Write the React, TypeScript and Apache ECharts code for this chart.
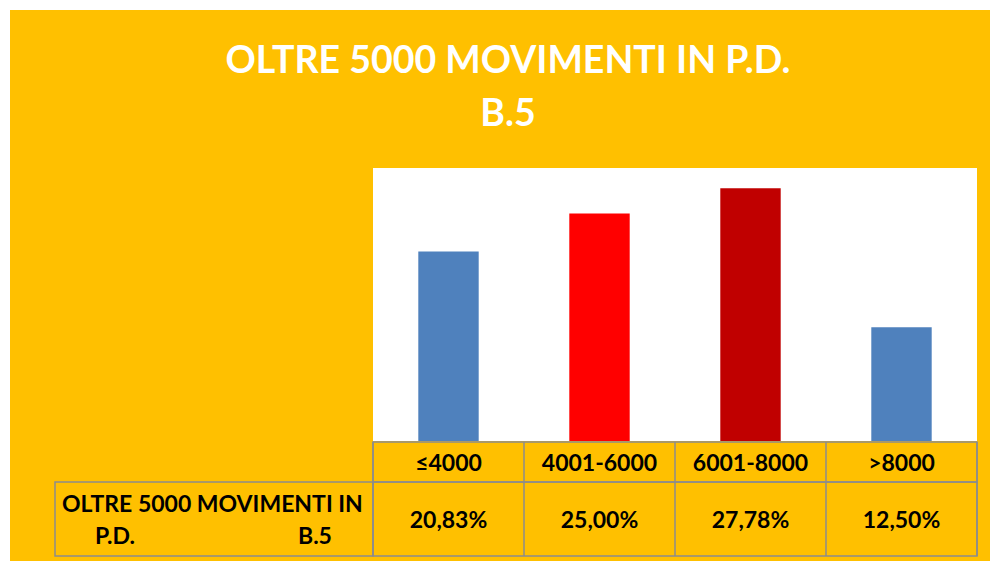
import React, { useEffect, useRef } from "react";
import * as echarts from "echarts";

const categories = ["≤4000", "4001-6000", "6001-8000", ">8000"];
const values = [20.83, 25.0, 27.78, 12.5];
const barColors = ["#4F81BD", "#FF0000", "#C00000", "#4F81BD"];
const titleLines = ["OLTRE 5000 MOVIMENTI IN P.D.", "B.5"];
const rowHeader = ["OLTRE 5000 MOVIMENTI IN", "P.D.", "B.5"];

const FONT = "Lato, 'Noto Sans', sans-serif";
const GRID_LINE = "#8C8C8C";

const fmt = (v: number) => v.toFixed(2).replace(".", ",") + "%";

export default function App() {
  const ref = useRef<HTMLDivElement>(null);
  useEffect(() => {
    if (!ref.current) return;
    const chart = echarts.init(ref.current, undefined, { renderer: "svg" });
    const cellText = (getText: (i: number) => string) => (params: any, api: any) => {
      const idx = api.value(0);
      const p = api.coord([idx, 0]);
      return {
        type: "text",
        x: p[0],
        y: p[1],
        style: {
          text: getText(idx),
          align: "center",
          verticalAlign: "middle",
          textAlign: "center",
          textVerticalAlign: "middle",
          fill: "#000",
          fontFamily: FONT,
          fontWeight: "bold",
          fontSize: 23,
        },
      };
    };
    const tableAxis = (gridIndex: number) => ({
      type: "category",
      gridIndex,
      data: categories,
      axisLine: { show: false },
      axisTick: { show: false },
      axisLabel: { show: false },
      splitLine: { show: true, interval: 0, lineStyle: { color: GRID_LINE, width: 1.5 } },
    });
    const hiddenY = (gridIndex: number) => ({
      type: "value",
      gridIndex,
      min: -1,
      max: 1,
      show: false,
    });
    const headerText = (text: string, x: number, y: number) => ({
      type: "text",
      x,
      y,
      style: {
        text,
        align: "left",
        verticalAlign: "middle",
        fill: "#000",
        fontFamily: FONT,
        fontWeight: "bold",
        fontSize: 23,
      },
    });
    const titleText = (text: string, y: number) => ({
      type: "text",
      x: 508,
      y,
      style: {
        text,
        align: "center",
        verticalAlign: "middle",
        fill: "#FFFFFF",
        fontFamily: FONT,
        fontWeight: "bold",
        fontSize: 37.5,
      },
    });
    chart.setOption({
      animation: false,
      backgroundColor: "transparent",
      grid: [
        { left: 373, top: 168, width: 604, height: 273, show: true, backgroundColor: "#FFFFFF", borderWidth: 0 },
        { left: 373, top: 442, width: 604, height: 40, show: true, borderColor: GRID_LINE, borderWidth: 1.5 },
        { left: 373, top: 482, width: 604, height: 74, show: true, borderColor: GRID_LINE, borderWidth: 1.5 },
      ],
      xAxis: [
        { type: "category", gridIndex: 0, data: categories, show: false },
        tableAxis(1),
        tableAxis(2),
      ],
      yAxis: [
        { type: "value", gridIndex: 0, min: 0, max: 30, show: false },
        hiddenY(1),
        hiddenY(2),
      ],
      series: [
        {
          type: "bar",
          xAxisIndex: 0,
          yAxisIndex: 0,
          barWidth: "40%",
          data: values.map((v, i) => ({ value: v, itemStyle: { color: barColors[i] } })),
        },
        {
          type: "custom",
          xAxisIndex: 1,
          yAxisIndex: 1,
          data: categories.map((_, i) => [i]),
          renderItem: cellText((i) => categories[i]),
        },
        {
          type: "custom",
          xAxisIndex: 2,
          yAxisIndex: 2,
          data: values.map((_, i) => [i]),
          renderItem: cellText((i) => fmt(values[i])),
        },
      ],
      graphic: [
        titleText(titleLines[0], 58),
        titleText(titleLines[1], 111),
        {
          type: "rect",
          shape: { x: 55, y: 482, width: 318, height: 74 },
          style: { fill: "none", stroke: GRID_LINE, lineWidth: 1.5 },
        },
        headerText(rowHeader[0], 62, 503),
        headerText(rowHeader[1], 95, 535),
        headerText(rowHeader[2], 298, 535),
      ],
    });
    return () => chart.dispose();
  }, []);
  return (
    <div
      style={{
        position: "absolute",
        left: 0,
        top: 0,
        width: 990,
        height: 561,
        background: "linear-gradient(#FFC000, #FFC000) no-repeat 10px 10px / 980px 551px, #FFFFFF",
      }}
    >
      <div ref={ref} style={{ width: 990, height: 561 }} />
    </div>
  );
}
